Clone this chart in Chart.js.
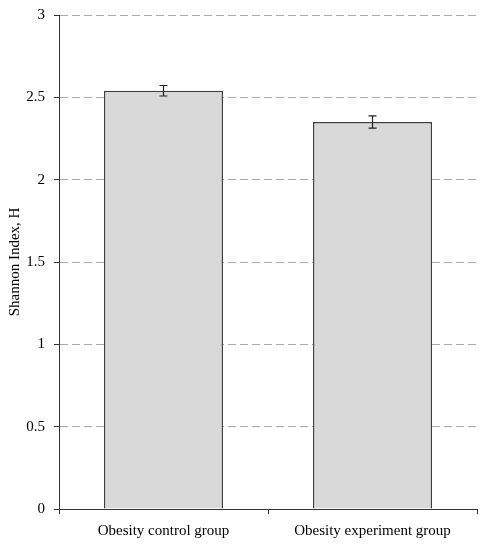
<!DOCTYPE html>
<html>
<head>
<meta charset="utf-8">
<script src="https://cdn.jsdelivr.net/npm/chart.js@4/dist/chart.umd.min.js"></script>
<style>
  html, body { margin: 0; padding: 0; background: #fff; }
  #wrap { width: 494px; height: 550px; }
</style>
</head>
<body>
<div id="wrap"><canvas id="chart"></canvas></div>
<script>
// chart data
const groups = ['Obesity control group', 'Obesity experiment group'];
const shannonMean = [2.54, 2.35];
const shannonErr = [0.032, 0.037];
const yTicks = [0, 0.5, 1, 1.5, 2, 2.5, 3];

// draw error bars on top of the bars
const errorBarPlugin = {
  id: 'errorBars',
  afterDatasetsDraw(chart) {
    const ctx = chart.ctx;
    const yScale = chart.scales.y;
    const meta = chart.getDatasetMeta(0);
    ctx.save();
    ctx.strokeStyle = '#222';
    ctx.lineWidth = 1.2;
    meta.data.forEach((bar, i) => {
      const top = yScale.getPixelForValue(shannonMean[i] + shannonErr[i]);
      const bottom = yScale.getPixelForValue(shannonMean[i] - shannonErr[i]);
      const x = bar.x;
      ctx.beginPath();
      ctx.moveTo(x, top);
      ctx.lineTo(x, bottom);
      ctx.moveTo(x - 4, top);
      ctx.lineTo(x + 4, top);
      ctx.moveTo(x - 4, bottom);
      ctx.lineTo(x + 4, bottom);
      ctx.stroke();
    });
    ctx.restore();
  }
};

const ctx = document.getElementById('chart').getContext('2d');
new Chart(ctx, {
  type: 'bar',
  data: {
    labels: groups,
    datasets: [{
      data: shannonMean,
      backgroundColor: '#d9d9d9',
      borderColor: '#404040',
      borderWidth: 1.5,
      categoryPercentage: 0.57,
      barPercentage: 1.0
    }]
  },
  options: {
    responsive: true,
    maintainAspectRatio: false,
    animation: false,
    layout: { padding: { top: 15, right: 17, left: 0, bottom: 0 } },
    plugins: {
      legend: { display: false },
      tooltip: { enabled: false }
    },
    scales: {
      x: {
        grid: {
          offset: true,
          drawOnChartArea: false,
          drawTicks: true,
          tickLength: 5,
          tickColor: '#333'
        },
        border: { color: '#333', width: 1 },
        ticks: {
          color: '#000',
          padding: 8,
          font: { family: 'Liberation Serif', size: 15 }
        },
        afterFit(scale) { scale.height = 41; }
      },
      y: {
        min: 0,
        max: 3,
        afterBuildTicks(scale) {
          scale.ticks = yTicks.map((v) => ({ value: v }));
        },
        grid: {
          color: '#aaaaaa',
          lineWidth: 1,
          tickLength: 5,
          tickColor: '#333'
        },
        border: { color: '#333', width: 1, dash: [8, 4] },
        ticks: {
          color: '#000',
          padding: 9,
          font: { family: 'Liberation Serif', size: 15 },
          callback: (value) => String(value)
        },
        title: {
          display: true,
          text: 'Shannon Index, H',
          color: '#000',
          font: { family: 'Liberation Serif', size: 15 },
          padding: { top: 6, bottom: 0 }
        },
        afterFit(scale) {
          scale.width = 59;
          scale.paddingTop = 0;
          scale.paddingBottom = 0;
        }
      }
    }
  },
  plugins: [errorBarPlugin]
});
</script>
</body>
</html>
